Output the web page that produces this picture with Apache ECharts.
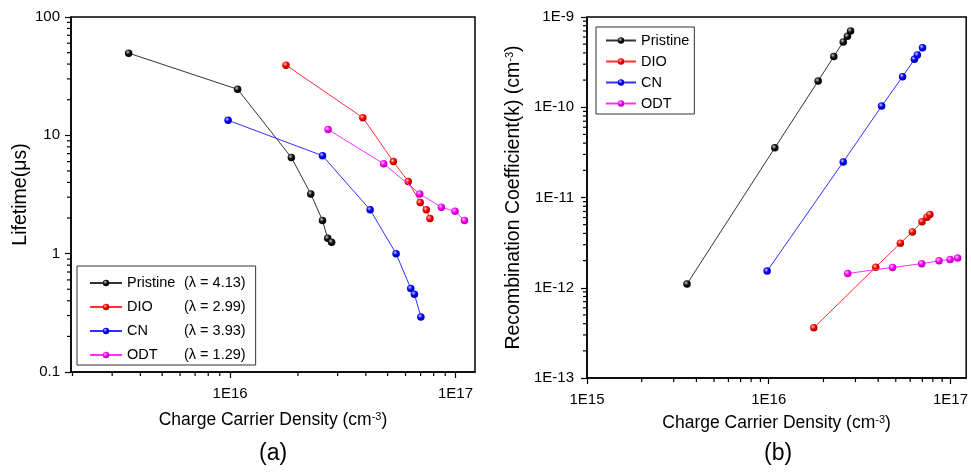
<!DOCTYPE html>
<html><head><meta charset="utf-8">
<script src="https://cdn.jsdelivr.net/npm/echarts@6/dist/echarts.min.js"></script>
<style>html,body{margin:0;padding:0;background:#fff}#c{width:971px;height:473px}</style>
</head><body><div id="c"></div>
<script>
// ---------- data ----------
const seriesNames = ['Pristine', 'DIO', 'CN', 'ODT'];
const lambdas = ['4.13', '2.99', '3.93', '1.29'];

const pristineN   = [3.55e15, 1.08e16, 1.87e16, 2.28e16, 2.57e16, 2.71e16, 2.82e16];
const pristineTau = [49.5, 24.5, 6.5, 3.2, 1.91, 1.35, 1.25];
const pristineK   = [1.1e-12, 3.55e-11, 1.95e-10, 3.65e-10, 5.3e-10, 6.1e-10, 7.0e-10];

const dioN   = [1.77e16, 3.88e16, 5.3e16, 6.17e16, 6.97e16, 7.42e16, 7.7e16];
const dioTau = [39.2, 14.1, 6.0, 4.07, 2.7, 2.35, 1.98];
const dioK   = [3.6e-13, 1.69e-12, 3.12e-12, 4.16e-12, 5.4e-12, 6.05e-12, 6.5e-12];

const cnN   = [9.8e15, 2.57e16, 4.18e16, 5.45e16, 6.33e16, 6.57e16, 7.02e16];
const cnTau = [13.4, 6.73, 2.35, 1.0, 0.508, 0.455, 0.292];
const cnK   = [1.53e-12, 2.48e-11, 1.03e-10, 2.18e-10, 3.4e-10, 3.8e-10, 4.57e-10];

const odtN   = [2.72e16, 4.8e16, 6.94e16, 8.65e16, 9.95e16, 1.095e17];
const odtTau = [11.2, 5.75, 3.2, 2.47, 2.28, 1.91];
const odtK   = [1.44e-12, 1.68e-12, 1.85e-12, 1.99e-12, 2.06e-12, 2.13e-12];

const densities = [pristineN, dioN, cnN, odtN];
const lifetimes = [pristineTau, dioTau, cnTau, odtTau];
const coeffs    = [pristineK, dioK, cnK, odtK];

// tick labels / tick positions
const leftXMajor  = [1e16, 1e17];
const leftYMajor  = [0.1, 1, 10, 100];
const rightXMajor = [1e15, 1e16, 1e17];
const rightYMajor = [1e-13, 1e-12, 1e-11, 1e-10, 1e-9];

// ---------- styles ----------
const colors    = ['#111111', '#ff0000', '#0000ff', '#ff00ff'];
const lineCols  = ['#333333', '#ff3030', '#3030ff', '#ff30ff'];
const highlight = ['#c8c8c8', '#ffc8c8', '#c8c8ff', '#ffd0ff'];
const darkCols  = ['#000000', '#a00000', '#0000a0', '#a000a0'];

function ball(i) {
  return { type: 'radial', x: 0.38, y: 0.35, r: 0.7,
    colorStops: [{ offset: 0, color: highlight[i] }, { offset: 0.45, color: colors[i] }, { offset: 1, color: darkCols[i] }] };
}
function minors(lo, hi) {
  const out = [];
  for (let e = lo; e < hi; e++) for (let m = 2; m < 10; m++) out.push(m * Math.pow(10, e));
  return out;
}
const FONT = 'Liberation Sans, Arial, sans-serif';
const expFmt = v => '1E' + Math.round(Math.log10(v));
const supRich = { sup: { fontSize: 11, verticalAlign: 'top', lineHeight: 11, fontFamily: FONT, color: '#000' } };

function mainAxis(grid, pos, min, max, majors, fmt, name, nameGap, nameSize, margin) {
  return {
    type: 'log', gridIndex: grid, position: pos, min: min, max: max, logBase: 10,
    axisLine: { show: true, lineStyle: { color: '#000', width: 1.5 } },
    axisTick: { show: true, inside: false, length: 6, customValues: majors, lineStyle: { color: '#000', width: 1.2 } },
    axisLabel: { show: true, customValues: majors, formatter: fmt, margin: margin, fontSize: 15, color: '#000', fontFamily: FONT },
    splitLine: { show: false }, minorTick: { show: false },
    name: name, nameLocation: 'middle', nameGap: nameGap,
    nameTextStyle: { fontSize: nameSize, color: '#000', fontFamily: FONT, rich: supRich }
  };
}

const xMin0 = 1.97e15, xMax = 1.22e17;
const xAxes = [
  mainAxis(0, 'bottom', xMin0, xMax, leftXMajor, expFmt, 'Charge Carrier Density (cm{sup|-3})', 39, 17.5, 14),
  mainAxis(1, 'bottom', 1e15, xMax, rightXMajor, expFmt, 'Charge Carrier Density (cm{sup|-3})', 36, 17.5, 14)
];
const yAxes = [
  mainAxis(0, 'left', 0.1, 100, leftYMajor, v => String(v), 'Lifetime(μs)', 37, 19.5, 11),
  mainAxis(1, 'left', 1e-13, 1e-9, rightYMajor, expFmt, 'Recombination Coefficient(k) (cm{sup|-3})', 63, 19.5, 13)
];

// minor tick marks drawn through the axes' own log scales
function minorTickSeries(axisIdx, vals, fixed, isX) {
  return {
    type: 'custom', xAxisIndex: axisIdx, yAxisIndex: axisIdx, z: 10, clip: false, silent: true,
    data: vals.map(v => isX ? [v, fixed] : [fixed, v]),
    renderItem: function (params, api) {
      const p = api.coord([api.value(0), api.value(1)]);
      const shape = isX ? { x1: p[0], y1: p[1], x2: p[0], y2: p[1] + 4 }
                        : { x1: p[0], y1: p[1], x2: p[0] - 4, y2: p[1] };
      return { type: 'line', shape: shape, style: { stroke: '#000', lineWidth: 1.2 } };
    }
  };
}

const series = [];
seriesNames.forEach((nm, i) => {
  const base = {
    name: nm, type: 'line', symbol: 'circle', symbolSize: 7.5, showSymbol: true,
    lineStyle: { width: 1, color: lineCols[i] }, itemStyle: { color: ball(i) },
    emphasis: { disabled: true }, z: 3 + i
  };
  series.push(Object.assign({}, base, { xAxisIndex: 0, yAxisIndex: 0,
    data: densities[i].map((n, j) => [n, lifetimes[i][j]]) }));
  series.push(Object.assign({}, base, { xAxisIndex: 1, yAxisIndex: 1,
    data: densities[i].map((n, j) => [n, coeffs[i][j]]) }));
});
series.push(minorTickSeries(0, minors(15, 17).filter(v => v >= xMin0), 0.1, true));
series.push(minorTickSeries(0, minors(-1, 2), xMin0, false));
series.push(minorTickSeries(1, minors(15, 17), 1e-13, true));
series.push(minorTickSeries(1, minors(-13, -9), 1e15, false));

const option = {
  animation: false,
  backgroundColor: '#ffffff',
  textStyle: { fontFamily: FONT },
  grid: [
    { left: 71, top: 17, width: 404, height: 355, show: true, borderColor: '#000', borderWidth: 1.5, backgroundColor: 'transparent' },
    { left: 587, top: 17, width: 381, height: 361, show: true, borderColor: '#000', borderWidth: 1.5, backgroundColor: 'transparent' }
  ],
  xAxis: xAxes,
  yAxis: yAxes,
  legend: [
    {
      orient: 'vertical', left: 77, top: 266, data: seriesNames, selectedMode: false,
      padding: [9, 10, 2, 12], itemWidth: 32, itemHeight: 8, itemGap: 8,
      borderColor: '#333', borderWidth: 1, backgroundColor: '#fff',
      formatter: name => '{n|' + name + '}{l|(λ = ' + lambdas[seriesNames.indexOf(name)] + ')}',
      textStyle: { fontSize: 14.5, lineHeight: 16, color: '#000', fontFamily: FONT,
        rich: { n: { width: 57, fontSize: 14.5, lineHeight: 16, fontFamily: FONT, color: '#000' },
                l: { fontSize: 14.5, lineHeight: 16, fontFamily: FONT, color: '#000' } } }
    },
    {
      orient: 'vertical', left: 596, top: 27, data: seriesNames, selectedMode: false,
      padding: [6, 5, 3, 9], itemWidth: 30, itemHeight: 8, itemGap: 6,
      borderColor: '#333', borderWidth: 1, backgroundColor: '#fff',
      textStyle: { fontSize: 14.5, lineHeight: 15, color: '#000', fontFamily: FONT }
    }
  ],
  graphic: [
    { type: 'text', left: 273 - 14, top: 442, style: { text: '(a)', fontSize: 23, fill: '#000', font: '23px ' + FONT } },
    { type: 'text', left: 778 - 14, top: 442, style: { text: '(b)', fontSize: 23, fill: '#000', font: '23px ' + FONT } }
  ],
  series: series
};

const chart = echarts.init(document.getElementById('c'), null, { renderer: 'canvas' });
chart.setOption(option);
</script>
</body></html>
